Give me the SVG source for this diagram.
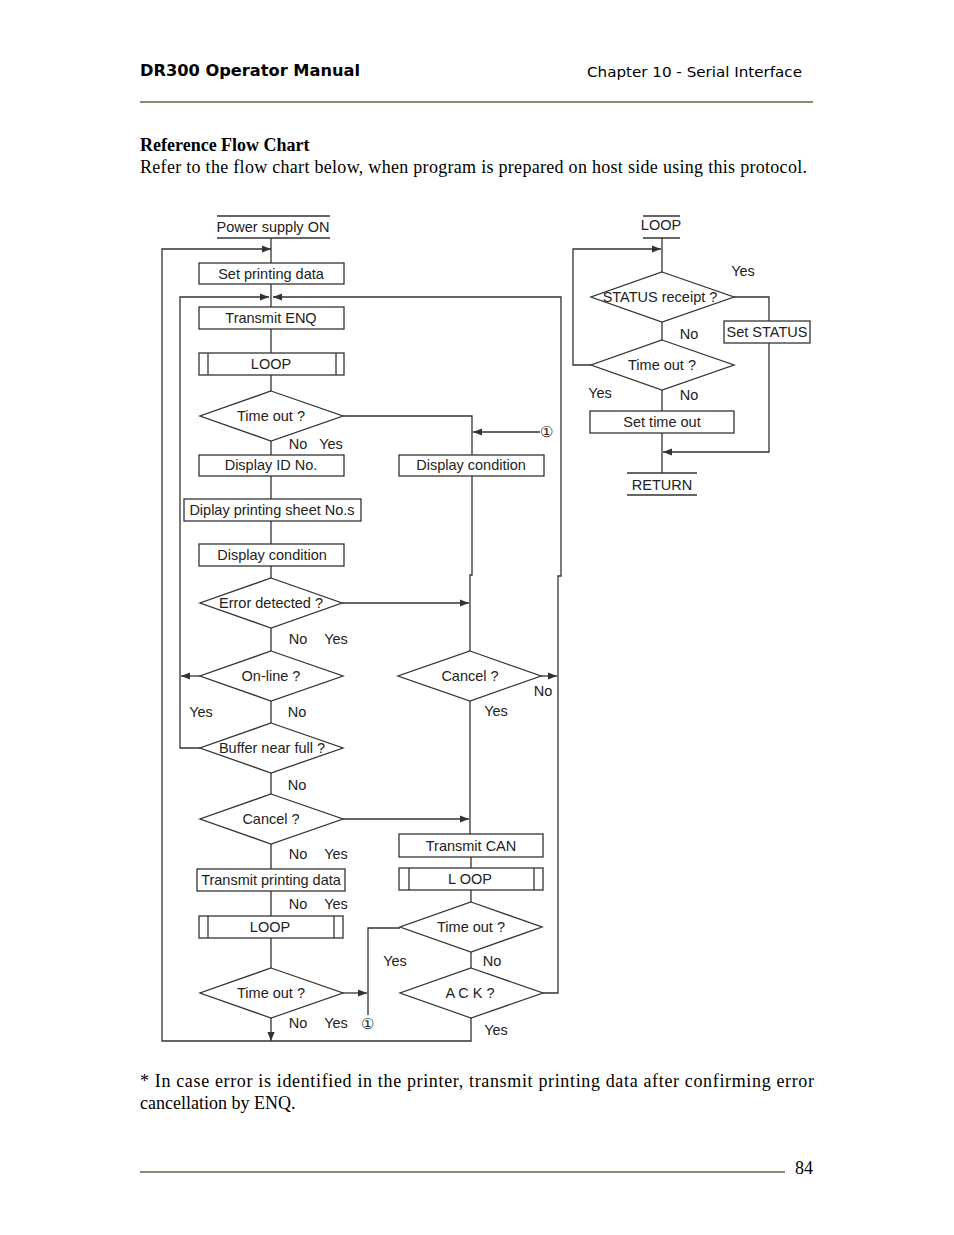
<svg xmlns="http://www.w3.org/2000/svg" width="954" height="1235" viewBox="0 0 954 1235">
<style>
.bx{fill:#fff;stroke:#333;stroke-width:1.3}
.dm{fill:#fff;stroke:#333;stroke-width:1.3}
.ln{fill:none;stroke:#333;stroke-width:1.3}
.t{font-family:"Liberation Sans",Arial,sans-serif;font-size:14.5px;fill:#222;text-anchor:middle}
.lb{font-family:"Liberation Sans",Arial,sans-serif;font-size:14.5px;fill:#222;text-anchor:middle}
.sr{font-family:"Liberation Serif","Times New Roman",serif;font-size:18px;fill:#000}
.rule{stroke:#8e8a72;stroke-width:2.2}
</style>
<defs>
<marker id="ar" viewBox="0 0 10 10" refX="10" refY="5" markerWidth="9" markerHeight="9" markerUnits="userSpaceOnUse" orient="auto">
<path d="M0,1 L10,5 L0,9 z" fill="#333"/>
</marker>
</defs>
<rect width="954" height="1235" fill="#fff"/>

<g id="header">
<text x="140" y="76" font-family="DejaVu Sans,sans-serif" font-weight="bold" font-size="16" textLength="220" lengthAdjust="spacingAndGlyphs">DR300 Operator Manual</text>
<text x="587" y="77" font-family="DejaVu Sans,sans-serif" font-size="14" textLength="215" lengthAdjust="spacingAndGlyphs">Chapter 10 - Serial Interface</text>
<line class="rule" x1="140" y1="102" x2="813" y2="102"/>
<text class="sr" x="140" y="151" font-weight="bold">Reference Flow Chart</text>
<text class="sr" x="140" y="173" textLength="667" lengthAdjust="spacing">Refer to the flow chart below, when program is prepared on host side using this protocol.</text>
</g>

<g id="connectors">
<path class="ln" d="M271,238 V263"/>
<path class="ln" d="M271,1018 V1041" marker-end="url(#ar)"/>
<path class="ln" d="M471,1018 V1041 H162 V249 H271" marker-end="url(#ar)"/>
<path class="ln" d="M271,284 V307"/>
<path class="ln" d="M200,748 H180 V297 H269" marker-end="url(#ar)"/>
<path class="ln" d="M543,993 H558 V576 H561 V297 H273" marker-end="url(#ar)"/>
<path class="ln" d="M271,329 V353"/>
<path class="ln" d="M271,375 V391"/>
<path class="ln" d="M343,416 H472 V455"/>
<path class="ln" d="M540,432 H473" marker-end="url(#ar)"/>
<path class="ln" d="M271,441 V455"/>
<path class="ln" d="M271,476 V499"/>
<path class="ln" d="M271,521 V544"/>
<path class="ln" d="M271,566 V578"/>
<path class="ln" d="M342,603 H469" marker-end="url(#ar)"/>
<path class="ln" d="M472,476 V575 H470 V651"/>
<path class="ln" d="M271,628 V651"/>
<path class="ln" d="M200,676 H181" marker-end="url(#ar)"/>
<path class="ln" d="M271,701 V723"/>
<path class="ln" d="M271,773 V794"/>
<path class="ln" d="M343,819 H469" marker-end="url(#ar)"/>
<path class="ln" d="M541,676 H557" marker-end="url(#ar)"/>
<path class="ln" d="M470,701 V834"/>
<path class="ln" d="M271,844 V869"/>
<path class="ln" d="M271,891 V916"/>
<path class="ln" d="M271,938 V968"/>
<path class="ln" d="M343,993 H367" marker-end="url(#ar)"/>
<path class="ln" d="M368,1015 V928 H400"/>
<path class="ln" d="M471,857 V868"/>
<path class="ln" d="M471,890 V902"/>
<path class="ln" d="M471,952 V968"/>
<path class="ln" d="M662,238 V272"/>
<path class="ln" d="M591,365 H573 V249 H661" marker-end="url(#ar)"/>
<path class="ln" d="M734,297 H769 V321"/>
<path class="ln" d="M769,343 V452 H663" marker-end="url(#ar)"/>
<path class="ln" d="M662,322 V340"/>
<path class="ln" d="M662,390 V411"/>
<path class="ln" d="M662,433 V473"/>
</g>

<g id="power_on">
<line class="ln" x1="217" y1="216" x2="330" y2="216"/>
<line class="ln" x1="217" y1="238" x2="330" y2="238"/>
<text class="t" x="273" y="232">Power supply ON</text>
</g>
<g id="set_printing_data">
<rect class="bx" x="199" y="263" width="145" height="21"/>
<text class="t" x="271" y="279">Set printing data</text>
</g>
<g id="transmit_enq">
<rect class="bx" x="199" y="307" width="145" height="22"/>
<text class="t" x="271" y="323">Transmit ENQ</text>
</g>
<g id="loop1">
<rect class="bx" x="199" y="353" width="145" height="22"/>
<line class="ln" x1="208" y1="353" x2="208" y2="375"/>
<line class="ln" x1="336" y1="353" x2="336" y2="375"/>
<text class="t" x="271" y="369">LOOP</text>
</g>
<g id="timeout1">
<polygon class="dm" points="271,391 343,416 271,441 200,416"/>
<text class="t" x="271" y="421">Time out ?</text>
<text class="lb" x="298" y="449">No</text>
<text class="lb" x="331" y="449">Yes</text>
</g>
<g id="display_id">
<rect class="bx" x="199" y="455" width="145" height="21"/>
<text class="t" x="271" y="470">Display ID No.</text>
</g>
<g id="display_condition_r">
<rect class="bx" x="399" y="455" width="145" height="21"/>
<text class="t" x="471" y="470">Display condition</text>
</g>
<g id="marker1_top">
<text class="lb" x="546" y="437" font-size="12">①</text>
</g>
<g id="display_sheet">
<rect class="bx" x="184" y="499" width="177" height="22"/>
<text class="t" x="272" y="515">Diplay printing sheet No.s</text>
</g>
<g id="display_condition_l">
<rect class="bx" x="199" y="544" width="145" height="22"/>
<text class="t" x="272" y="560">Display condition</text>
</g>
<g id="error_detected">
<polygon class="dm" points="271,578 342,603 271,628 200,603"/>
<text class="t" x="271" y="608">Error detected ?</text>
<text class="lb" x="298" y="644">No</text>
<text class="lb" x="336" y="644">Yes</text>
</g>
<g id="online">
<polygon class="dm" points="271,651 343,676 271,701 200,676"/>
<text class="t" x="271" y="681">On-line ?</text>
<text class="lb" x="201" y="717">Yes</text>
<text class="lb" x="297" y="717">No</text>
</g>
<g id="buffer_full">
<polygon class="dm" points="271,723 343,748 271,773 200,748"/>
<text class="t" x="272" y="753">Buffer near full ?</text>
<text class="lb" x="297" y="790">No</text>
</g>
<g id="cancel_l">
<polygon class="dm" points="271,794 343,819 271,844 200,819"/>
<text class="t" x="271" y="824">Cancel ?</text>
<text class="lb" x="298" y="859">No</text>
<text class="lb" x="336" y="859">Yes</text>
</g>
<g id="transmit_printing">
<rect class="bx" x="197" y="869" width="148" height="22"/>
<text class="t" x="271" y="885">Transmit printing data</text>
<text class="lb" x="298" y="909">No</text>
<text class="lb" x="336" y="909">Yes</text>
</g>
<g id="loop2">
<rect class="bx" x="199" y="916" width="144" height="22"/>
<line class="ln" x1="208" y1="916" x2="208" y2="938"/>
<line class="ln" x1="334" y1="916" x2="334" y2="938"/>
<text class="t" x="270" y="932">LOOP</text>
</g>
<g id="timeout2">
<polygon class="dm" points="271,968 343,993 271,1018 200,993"/>
<text class="t" x="271" y="998">Time out ?</text>
<text class="lb" x="298" y="1028">No</text>
<text class="lb" x="336" y="1028">Yes</text>
<text class="lb" x="367" y="1029" font-size="12">①</text>
</g>
<g id="cancel_r">
<polygon class="dm" points="470,651 541,676 470,701 398,676"/>
<text class="t" x="470" y="681">Cancel ?</text>
<text class="lb" x="543" y="696">No</text>
<text class="lb" x="496" y="716">Yes</text>
</g>
<g id="transmit_can">
<rect class="bx" x="399" y="834" width="144" height="23"/>
<text class="t" x="471" y="851">Transmit CAN</text>
</g>
<g id="loop3">
<rect class="bx" x="399" y="868" width="144" height="22"/>
<line class="ln" x1="409" y1="868" x2="409" y2="890"/>
<line class="ln" x1="534" y1="868" x2="534" y2="890"/>
<text class="t" x="470" y="884">L OOP</text>
</g>
<g id="timeout3">
<polygon class="dm" points="471,902 542,927 471,952 400,927"/>
<text class="t" x="471" y="932">Time out ?</text>
<text class="lb" x="395" y="966">Yes</text>
<text class="lb" x="492" y="966">No</text>
</g>
<g id="ack">
<polygon class="dm" points="471,968 543,993 471,1018 400,993"/>
<text class="t" x="470" y="998">A C K ?</text>
<text class="lb" x="496" y="1035">Yes</text>
</g>

<g id="loop_start">
<line class="ln" x1="643" y1="216" x2="680" y2="216"/>
<line class="ln" x1="643" y1="238" x2="680" y2="238"/>
<text class="t" x="661" y="230">LOOP</text>
</g>
<g id="status_receipt">
<polygon class="dm" points="662,272 734,297 662,322 591,297"/>
<text class="t" x="660" y="302">STATUS receipt ?</text>
<text class="lb" x="743" y="276">Yes</text>
<text class="lb" x="689" y="339">No</text>
</g>
<g id="set_status">
<rect class="bx" x="724" y="321" width="86" height="22"/>
<text class="t" x="767" y="337">Set STATUS</text>
</g>
<g id="timeout4">
<polygon class="dm" points="662,340 734,365 662,390 591,365"/>
<text class="t" x="662" y="370">Time out ?</text>
<text class="lb" x="600" y="398">Yes</text>
<text class="lb" x="689" y="400">No</text>
</g>
<g id="set_timeout">
<rect class="bx" x="590" y="411" width="144" height="22"/>
<text class="t" x="662" y="427">Set time out</text>
</g>
<g id="return">
<line class="ln" x1="627" y1="473" x2="697" y2="473"/>
<line class="ln" x1="627" y1="495" x2="697" y2="495"/>
<text class="t" x="662" y="490" font-size="17">RETURN</text>
</g>

<g id="footer">
<text class="sr" x="140" y="1087" textLength="674" lengthAdjust="spacing">* In case error is identified in the printer, transmit printing data after confirming error</text>
<text class="sr" x="140" y="1109">cancellation by ENQ.</text>
<line class="rule" x1="140" y1="1172" x2="785" y2="1172"/>
<text class="sr" x="795" y="1174">84</text>
</g>
</svg>
